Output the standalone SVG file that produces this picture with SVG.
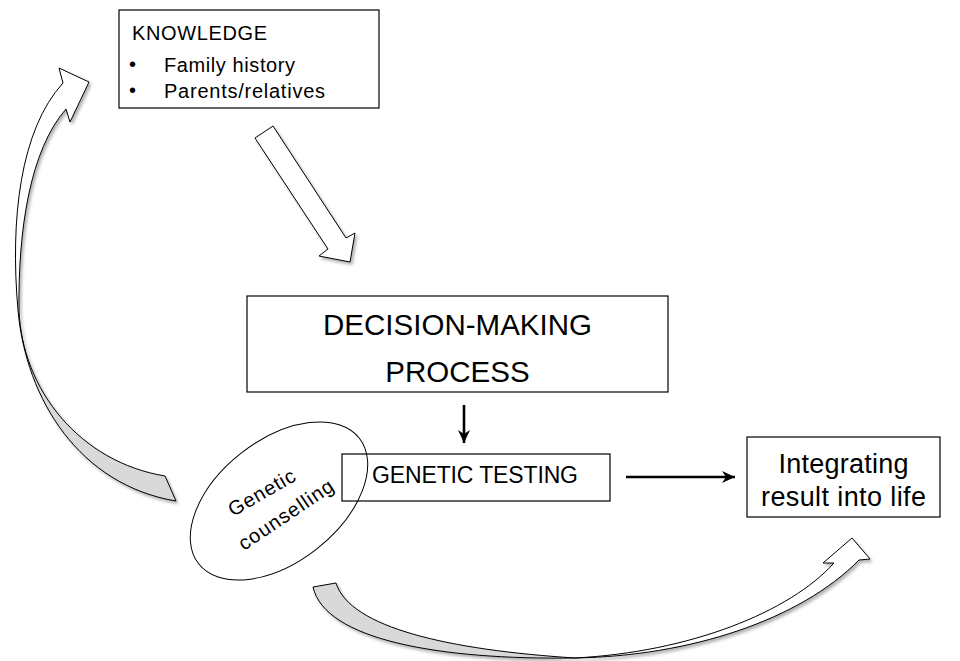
<svg xmlns="http://www.w3.org/2000/svg" width="960" height="661" viewBox="0 0 960 661">
<defs>
<style>
.box{fill:#fff;stroke:#000;stroke-width:1.2}
.t{font-family:"Liberation Sans",Arial,sans-serif;fill:#000}
.blk{stroke:#000;stroke-width:1;stroke-linejoin:miter}
.ln{stroke:#000;stroke-width:2.6;fill:none}
</style>
<filter id="sh" x="-10%" y="-10%" width="130%" height="130%">
<feDropShadow dx="2" dy="2.5" stdDeviation="1.5" flood-color="#000" flood-opacity="0.3"/>
</filter>
<marker id="ah" markerUnits="userSpaceOnUse" markerWidth="14" markerHeight="14" viewBox="0 0 14 14" refX="13" refY="7" orient="auto">
<path d="M0,1 L13,7 L0,13 L4,7 Z" fill="#000"/>
</marker>
<clipPath id="clipL"><rect x="0" y="0" width="300" height="312"/></clipPath>
<clipPath id="clipB"><rect x="575" y="400" width="400" height="261"/></clipPath>
<path id="leftArrow" d="M176,501 L165,476 C80,462 22,390 19,310 C18,230 30,150 66,109 L70,122 L89,82 L59,68 L63,83 C20,130 10,220 18,310 C26,400 80,485 176,501 Z"/>
<path id="bottomArrow" d="M313,587 C325,640 440,660 575,658 C690,656 800,620 859,560 L870,559 L852,538 L823,563 L834,563 C790,612 690,652 575,658 C450,650 350,628 336,583 Z"/>
</defs>
<rect width="960" height="661" fill="#fff"/>

<g id="connectors">
<g id="arrow-counselling-knowledge" filter="url(#sh)">
<use href="#leftArrow" fill="#d9d9d9"/>
<use href="#leftArrow" fill="#fff" clip-path="url(#clipL)"/>
<use href="#leftArrow" fill="none" class="blk"/>
</g>
<g id="arrow-counselling-integrating" filter="url(#sh)">
<use href="#bottomArrow" fill="#d9d9d9"/>
<use href="#bottomArrow" fill="#fff" clip-path="url(#clipB)"/>
<use href="#bottomArrow" fill="none" class="blk"/>
</g>
<g id="arrow-knowledge-decision" filter="url(#sh)">
<polygon points="255,138 273,126 346,238 355,233 350,262 319,256 328,249" fill="#fff" class="blk"/>
</g>
<line id="arrow-decision-testing" x1="464" y1="405" x2="464" y2="443" class="ln" marker-end="url(#ah)"/>
<line id="arrow-testing-integrating" x1="626" y1="477" x2="735" y2="477" class="ln" marker-end="url(#ah)"/>
</g>

<g id="node-knowledge">
<rect class="box" x="119" y="10" width="260" height="98"/>
<text class="t" x="132" y="40" font-size="20" textLength="135">KNOWLEDGE</text>
<text class="t" x="129" y="71" font-size="20">•</text>
<text class="t" x="164" y="72" font-size="20" textLength="131">Family history</text>
<text class="t" x="129" y="97" font-size="20">•</text>
<text class="t" x="164" y="98" font-size="20" textLength="161">Parents/relatives</text>
</g>

<g id="node-decision">
<rect class="box" x="247" y="296" width="421" height="96"/>
<text class="t" x="457.5" y="335" font-size="29.5" text-anchor="middle" textLength="269">DECISION-MAKING</text>
<text class="t" x="457.5" y="382" font-size="29.5" text-anchor="middle">PROCESS</text>
</g>

<g id="node-genetic-testing">
<rect class="box" x="342" y="454" width="268" height="47"/>
<text class="t" x="372" y="483" font-size="23" textLength="206">GENETIC TESTING</text>
</g>

<g id="node-counselling">
<ellipse cx="279" cy="501" rx="102" ry="61" transform="rotate(-38 279 501)" fill="none" stroke="#000" stroke-width="1"/>
<text class="t" font-size="20" textLength="74" transform="translate(233,517) rotate(-30)">Genetic</text>
<text class="t" font-size="20" textLength="110" transform="translate(244,551) rotate(-34)">counselling</text>
</g>

<g id="node-integrating">
<rect class="box" x="747" y="437" width="193" height="80"/>
<text class="t" x="843.5" y="473" font-size="27" text-anchor="middle" textLength="130">Integrating</text>
<text class="t" x="843.5" y="506" font-size="27" text-anchor="middle" textLength="165">result into life</text>
</g>
</svg>
